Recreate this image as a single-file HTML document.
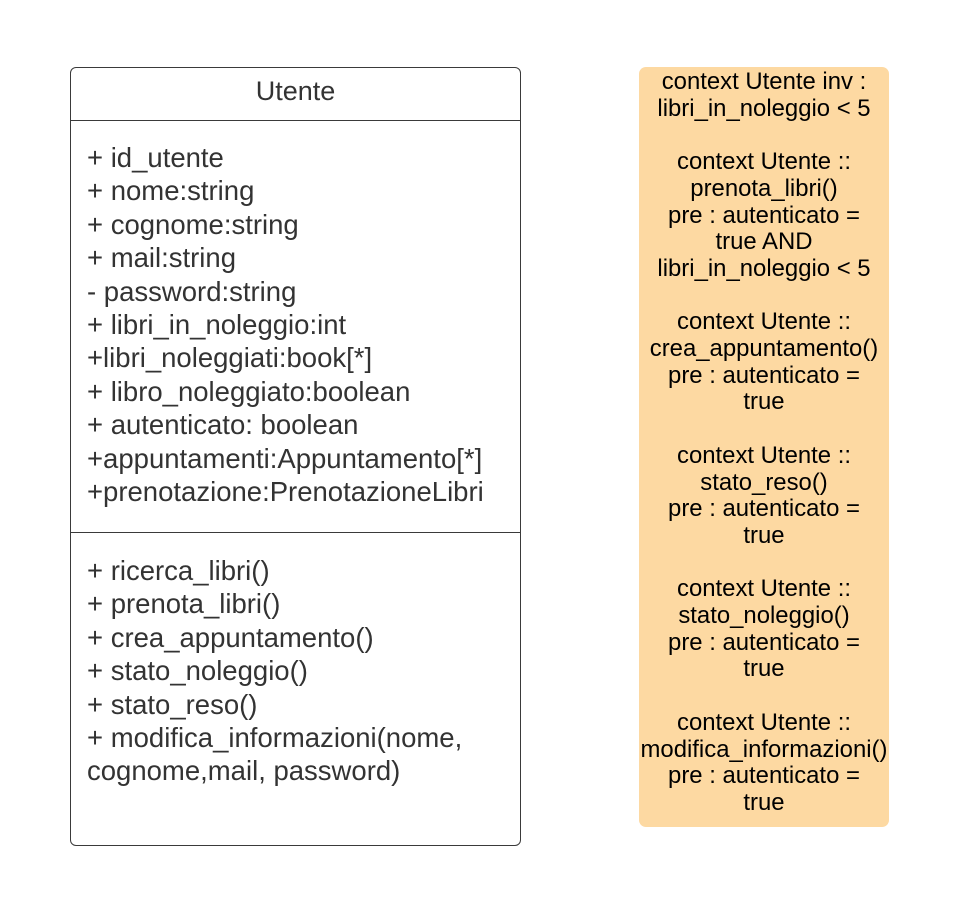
<!DOCTYPE html>
<html><head><meta charset="utf-8"><style>
body{margin:0;width:962px;height:915px;background:#fff;position:relative;font-family:"Liberation Sans",Arial,sans-serif;overflow:hidden}
.cls{position:absolute;left:70px;top:67px;width:449px;height:777px;border:1.5px solid #3a3a3a;border-radius:6px}
.hd{position:absolute;left:0;right:0;top:0;height:52px;border-bottom:1.5px solid #3a3a3a;text-align:center;line-height:46px;font-size:27px;color:#333}
.sep{position:absolute;left:0;right:0;top:464px;border-top:1.5px solid #3a3a3a}
.t{position:absolute;left:16px;font-size:27.5px;line-height:33.4px;color:#333;white-space:pre}
.note{position:absolute;left:639px;top:67px;width:250px;height:760px;background:#fdd9a2;border-radius:7px}
.nt{position:absolute;left:-10px;right:-10px;top:2px;text-align:center;font-size:23.9px;line-height:26.7px;color:#000;white-space:pre}
</style></head><body>
<div class="cls">
<div class="hd">Utente</div>
<div class="t" style="top:73px">+ id_utente
+ nome:string
+ cognome:string
+ mail:string
- password:string
+ libri_in_noleggio:int
+libri_noleggiati:book[*]
+ libro_noleggiato:boolean
+ autenticato: boolean
+appuntamenti:Appuntamento[*]
+prenotazione:PrenotazioneLibri</div>
<div class="sep"></div>
<div class="t" style="top:486px">+ ricerca_libri()
+ prenota_libri()
+ crea_appuntamento()
+ stato_noleggio()
+ stato_reso()
+ modifica_informazioni(nome,
cognome,mail, password)</div>
</div>
<div class="note"><div class="nt">context Utente inv :
libri_in_noleggio &lt; 5

context Utente ::
prenota_libri()
pre : autenticato =
true AND
libri_in_noleggio &lt; 5

context Utente ::
crea_appuntamento()
pre : autenticato =
true

context Utente ::
stato_reso()
pre : autenticato =
true

context Utente ::
stato_noleggio()
pre : autenticato =
true

context Utente ::
modifica_informazioni()
pre : autenticato =
true</div></div>
</body></html>
